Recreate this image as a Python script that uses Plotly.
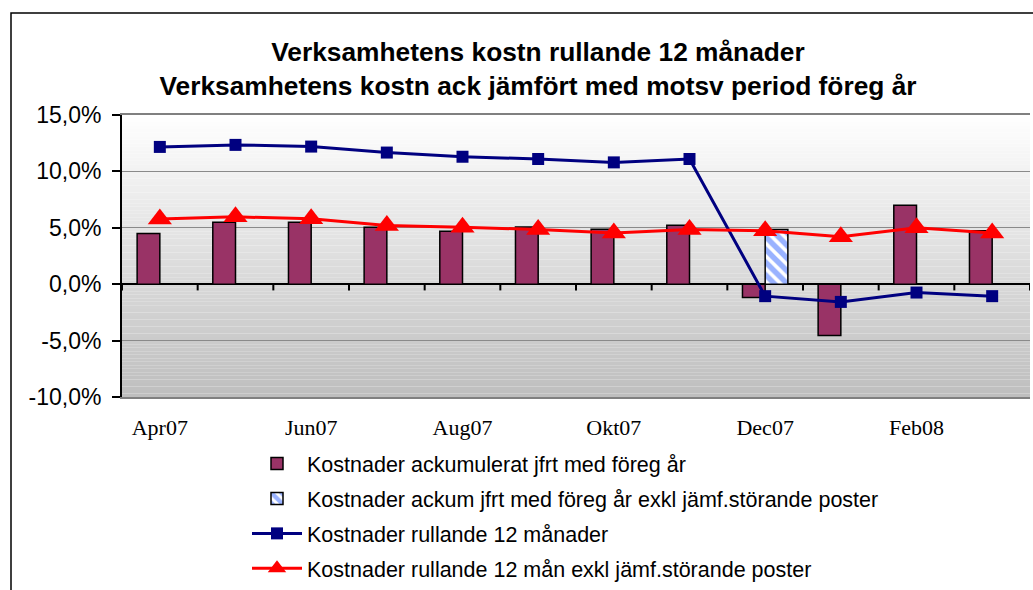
import plotly.graph_objects as go

months = ["Apr07", "Maj07", "Jun07", "Jul07", "Aug07", "Sep07", "Okt07", "Nov07",
          "Dec07", "Jan08", "Feb08", "Mar08"]
label_months = ["Apr07", "Jun07", "Aug07", "Okt07", "Dec07", "Feb08"]

ack = [4.5, 5.5, 5.5, 5.05, 4.7, 5.08, 4.88, 5.23, -1.18, -4.55, 7.0, 4.73]
ack_exkl = [None, None, None, None, None, None, None, None, 4.85, None, None, None]
rull = [12.17, 12.35, 12.2, 11.67, 11.3, 11.1, 10.8, 11.1, -1.06, -1.57, -0.74, -1.06]
rull_exkl = [5.78, 5.97, 5.8, 5.2, 5.05, 4.85, 4.55, 4.85, 4.73, 4.2, 5.0, 4.55]

y_ticks = [-10, -5, 0, 5, 10, 15]
y_ticktext = ["-10,0%", "-5,0%", "0,0%", "5,0%", "10,0%", "15,0%"]

names = [
    "Kostnader ackumulerat jfrt med föreg år",
    "Kostnader ackum jfrt med föreg år exkl jämf.störande poster",
    "Kostnader rullande 12 månader",
    "Kostnader rullande 12 mån exkl jämf.störande poster",
]

W, H = 1033, 590
L, R, T, B = 122, 3, 115, 193
pw, ph = W - L - R, H - T - B


def px(p):
    return (p - L) / pw


def py(p):
    return (H - B - p) / ph


fig = go.Figure()

fig.add_trace(go.Bar(
    x=months, y=ack, name=names[0], legendgroup="a",
    marker=dict(color="#993366", line=dict(color="black", width=1.5)),
))
fig.add_trace(go.Bar(
    x=months, y=ack_exkl, name=names[1], legendgroup="b",
    marker=dict(color="white", line=dict(color="black", width=1.5),
                pattern=dict(shape="\\", fgcolor="#3366ff", bgcolor="white",
                             size=9, solidity=0.6)),
))
fig.add_trace(go.Scatter(
    x=months, y=rull, name=names[2], legendgroup="c", mode="lines+markers",
    line=dict(color="#000080", width=3),
    marker=dict(symbol="square", size=12, color="#000080"),
))
fig.add_trace(go.Scatter(
    x=months, y=rull_exkl, name=names[3], legendgroup="d", mode="lines+markers",
    line=dict(color="#ff0000", width=3),
    marker=dict(symbol="triangle-up", size=21, color="#ff0000"),
))

shapes = []
# gradient background
n = 80
for i in range(n):
    f = (i + 0.5) / n
    c = int(round(255 - (255 - 190) * f))
    shapes.append(dict(type="rect", xref="x domain", yref="y domain",
                       x0=0, x1=1, y0=1 - (i + 1) / n, y1=1 - i / n,
                       fillcolor=f"rgb({c},{c},{c})", line=dict(width=0),
                       layer="below"))
# tick marks on the zero line at category boundaries
for k in range(len(months) + 1):
    shapes.append(dict(type="line", xref="x", yref="y",
                       x0=k - 0.5, x1=k - 0.5, y0=0, y1=-0.55,
                       line=dict(color="black", width=2)))
# outer chart border (partially cut off)
shapes.append(dict(type="path", xref="paper", yref="paper",
                   path=f"M {px(11)} {py(700)} L {px(11)} {py(13)} L {px(1100)} {py(13)}",
                   line=dict(color="black", width=1.5)))

fig.update_layout(
    width=W, height=H,
    margin=dict(l=L, r=R, t=T, b=B, pad=0, autoexpand=False),
    paper_bgcolor="white",
    plot_bgcolor="white",
    font=dict(family="Liberation Sans, Arial, sans-serif", color="black", size=18),
    barmode="group",
    bargap=0.4,
    bargroupgap=0,
    shapes=shapes,
    title=dict(
        text="Verksamhetens kostn rullande 12 månader<br>Verksamhetens kostn ack jämfört med motsv period föreg år",
        x=538 / W, xanchor="center", y=1 - 61 / H, yanchor="middle",
        font=dict(size=26.3, family="Liberation Sans, Arial, sans-serif", weight="bold"),
    ),
    showlegend=True,
    legend=dict(
        xref="container", yref="container",
        x=247 / W, xanchor="left", y=1 - 443 / H, yanchor="top",
        bgcolor="rgba(0,0,0,0)", font=dict(size=21.5),
        traceorder="grouped", tracegroupgap=4, itemwidth=50,
    ),
)

fig.update_xaxes(
    type="category", range=[-0.5, len(months) - 0.5],
    tickvals=label_months, ticktext=label_months,
    ticks="outside", ticklen=10, tickcolor="rgba(0,0,0,0)",
    tickfont=dict(family="Liberation Serif, Times New Roman, serif", size=22),
    showgrid=False, zeroline=False,
    showline=True, linecolor="#808080", linewidth=2, mirror=True,
)
fig.update_yaxes(
    range=[-10, 15], tickvals=y_ticks, ticktext=y_ticktext,
    ticks="outside", ticklen=8, tickwidth=2, tickcolor="black",
    tickfont=dict(size=23),
    showgrid=True, gridcolor="#8a8a8a", gridwidth=1,
    zeroline=True, zerolinecolor="black", zerolinewidth=2,
    showline=True, linecolor="black", linewidth=2,
    ticklabelstandoff=6,
)

fig.write_html(
    "out.html",
    config={"displayModeBar": False},
    post_script="document.body.style.margin='0';document.body.style.overflow='hidden';",
)
